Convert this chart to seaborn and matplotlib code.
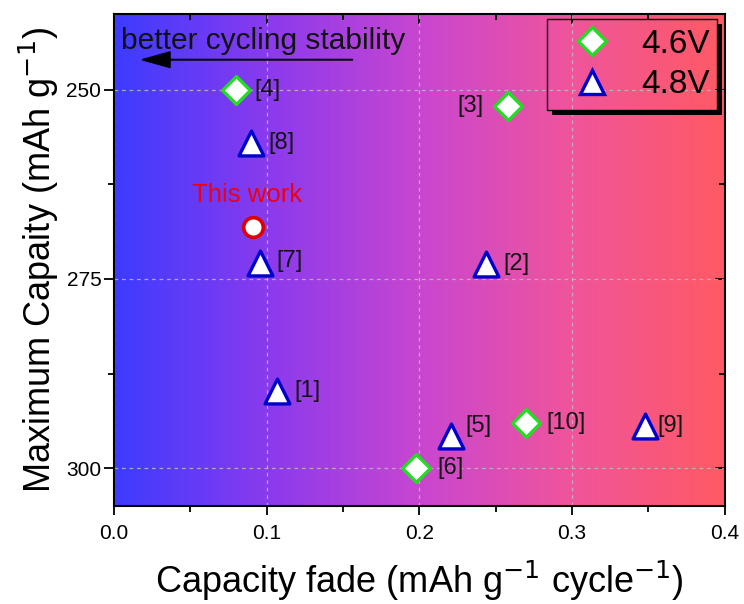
import numpy as np
import pandas as pd
import matplotlib
matplotlib.use("Agg")
import matplotlib.pyplot as plt
from matplotlib.colors import LinearSegmentedColormap
from matplotlib.patches import Rectangle, Polygon
from matplotlib.lines import Line2D
import seaborn as sns

# ---- data ----
v46_x = [0.080, 0.258, 0.198, 0.270]
v46_y = [250.0, 252.1, 300.0, 294.0]
v46_lab = ["[4]", "[3]", "[6]", "[10]"]

v48_x = [0.090, 0.0955, 0.244, 0.107, 0.221, 0.348]
v48_y = [257.0, 272.9, 273.0, 289.8, 295.7, 294.4]
v48_lab = ["[8]", "[7]", "[2]", "[1]", "[5]", "[9]"]

this_x = [0.091]
this_y = [268.2]

xticks = [0.0, 0.1, 0.2, 0.3, 0.4]
xminor = [0.05, 0.15, 0.25, 0.35]
yticks = [250, 275, 300]
yminor = [262.5, 287.5]
legend_labels = ["4.6V", "4.8V"]

sns.set_theme(style="white")
plt.rcParams['font.family'] = ['Liberation Sans', 'DejaVu Sans']
plt.rcParams['text.color'] = 'black'
plt.rcParams['axes.labelcolor'] = 'black'
plt.rcParams['xtick.color'] = 'black'
plt.rcParams['ytick.color'] = 'black'

fig = plt.figure(figsize=(7.44, 6.04), dpi=100)
ax = fig.add_axes([0.153, 0.162, 0.821, 0.815])

# gradient background
cmap = LinearSegmentedColormap.from_list(
    "bg", [(0.0, "#3c3cff"), (0.25, "#8a3aee"), (0.5, "#c846d0"), (0.75, "#f0549c"), (1.0, "#ff5a64")])
grad = np.linspace(0, 1, 256).reshape(1, -1)
ax.imshow(grad, extent=[0, 0.4, 305, 240], aspect="auto", cmap=cmap, zorder=0)

df46 = pd.DataFrame({"x": v46_x, "y": v46_y})
df48 = pd.DataFrame({"x": v48_x, "y": v48_y})
dft = pd.DataFrame({"x": this_x, "y": this_y})

green, blue, red = "#22dd22", "#0000cc", "#dd0000"
sns.scatterplot(data=df46, x="x", y="y", marker="D", s=200, color="white",
                edgecolor=green, linewidth=2.4, ax=ax, zorder=5, legend=False)
sns.scatterplot(data=df48, x="x", y="y", marker="^", s=320, color="white",
                edgecolor=blue, linewidth=2.4, ax=ax, zorder=5, legend=False)
sns.scatterplot(data=dft, x="x", y="y", marker="o", s=200, color="white",
                edgecolor=red, linewidth=2.6, ax=ax, zorder=5, legend=False)

# point labels
offsets = {"[4]": (0.012, 0, "left"), "[3]": (-0.016, 0, "right"), "[6]": (0.014, 0, "left"),
           "[10]": (0.013, 0, "left"), "[8]": (0.011, 0, "left"), "[7]": (0.011, -0.3, "left"),
           "[2]": (0.011, 0, "left"), "[1]": (0.011, 0, "left"), "[5]": (0.009, -1.3, "left"),
           "[9]": (0.008, 0, "left")}
for xs, ys, labs in [(v46_x, v46_y, v46_lab), (v48_x, v48_y, v48_lab)]:
    for x, y, l in zip(xs, ys, labs):
        dx, dy, ha = offsets[l]
        ax.text(x + dx, y + dy, l, ha=ha, va="center", fontsize=17,
                color="#111111", zorder=6)

ax.text(0.0874, 263.9, "This work", ha="center", va="center", fontsize=18.5,
        color="#ee0011", zorder=6)

ax.text(0.0045, 243.55, "better cycling stability", ha="left", va="center",
        fontsize=21.5, color="#111111", zorder=6)
ax.annotate("", xy=(0.015, 246.05), xytext=(0.158, 246.05),
            arrowprops=dict(arrowstyle="-|>,head_length=1.6,head_width=0.45",
                            color="black", lw=1.4), zorder=6)

ax.set_xlim(0, 0.4)
ax.set_ylim(305, 240)
ax.set_xticks(xticks)
ax.set_xticks(xminor, minor=True)
ax.set_yticks(yticks)
ax.set_yticks(yminor, minor=True)
ax.set_xticklabels([f"{t:.1f}" for t in xticks], fontsize=15)
ax.set_yticklabels([str(t) for t in yticks], fontsize=15)
ax.tick_params(which="both", direction="out", bottom=True, left=True, width=1.3, color="black")
ax.tick_params(axis="x", which="major", length=6.5, pad=6)
ax.tick_params(axis="y", which="major", length=7, pad=2)
ax.tick_params(which="minor", length=4)
ax.grid(True, which="major", linestyle=(0, (3, 3)), color="#c0c0c0", linewidth=0.9, alpha=0.8)
for sp in ax.spines.values():
    sp.set_color("black")
    sp.set_linewidth(1.5)

# mirrored inward ticks on top/right
secx = ax.secondary_xaxis("top")
secx.set_xticks(xticks)
secx.set_xticks(xminor, minor=True)
secx.tick_params(which="both", direction="in", labeltop=False, width=1.3, color="black")
secx.tick_params(which="major", length=7)
secx.tick_params(which="minor", length=4)
secy = ax.secondary_yaxis("right")
secy.set_yticks(yticks)
secy.set_yticks(yminor, minor=True)
secy.tick_params(which="both", direction="in", labelright=False, width=1.3, color="black")
secy.tick_params(which="major", length=7)
secy.tick_params(which="minor", length=4)

ax.set_xlabel("Capacity fade (mAh g$^{-1}$ cycle$^{-1}$)", fontsize=26, labelpad=12)
ax.set_ylabel("Maximum Capaity (mAh g$^{-1}$)", fontsize=26, labelpad=4)

# legend: transparent box with an offset black shadow
W, H = 744.0, 604.0
bx0, bx1, by0, by1 = 547, 717, 19, 110
sh = 5
fig.patches.append(Polygon(
    [(bx1 / W, 1 - (by0 + sh) / H), ((bx1 + sh) / W, 1 - (by0 + sh) / H),
     ((bx1 + sh) / W, 1 - (by1 + sh) / H), ((bx0 + sh) / W, 1 - (by1 + sh) / H),
     ((bx0 + sh) / W, 1 - by1 / H), (bx1 / W, 1 - by1 / H)],
    closed=True, transform=fig.transFigure, facecolor="black", edgecolor="none", zorder=20))
fig.patches.append(Rectangle((bx0 / W, 1 - by1 / H), (bx1 - bx0) / W, (by1 - by0) / H,
                             transform=fig.transFigure, facecolor="none", edgecolor="black",
                             linewidth=1.0, zorder=20))
handles = [
    Line2D([], [], marker="D", linestyle="none", markersize=np.sqrt(200), markerfacecolor="white",
           markeredgecolor=green, markeredgewidth=2.4),
    Line2D([], [], marker="^", linestyle="none", markersize=np.sqrt(320), markerfacecolor="white",
           markeredgecolor=blue, markeredgewidth=2.4),
]
leg = fig.legend(handles, legend_labels, loc="upper left", fontsize=24, frameon=False,
                 bbox_to_anchor=(575 / W, 1 - 29 / H), borderpad=0, borderaxespad=0,
                 handlelength=1.0, handletextpad=1.0, labelspacing=0.28)
for t in leg.get_texts():
    t.set_color("black")

fig.savefig("out.png", dpi=100)
